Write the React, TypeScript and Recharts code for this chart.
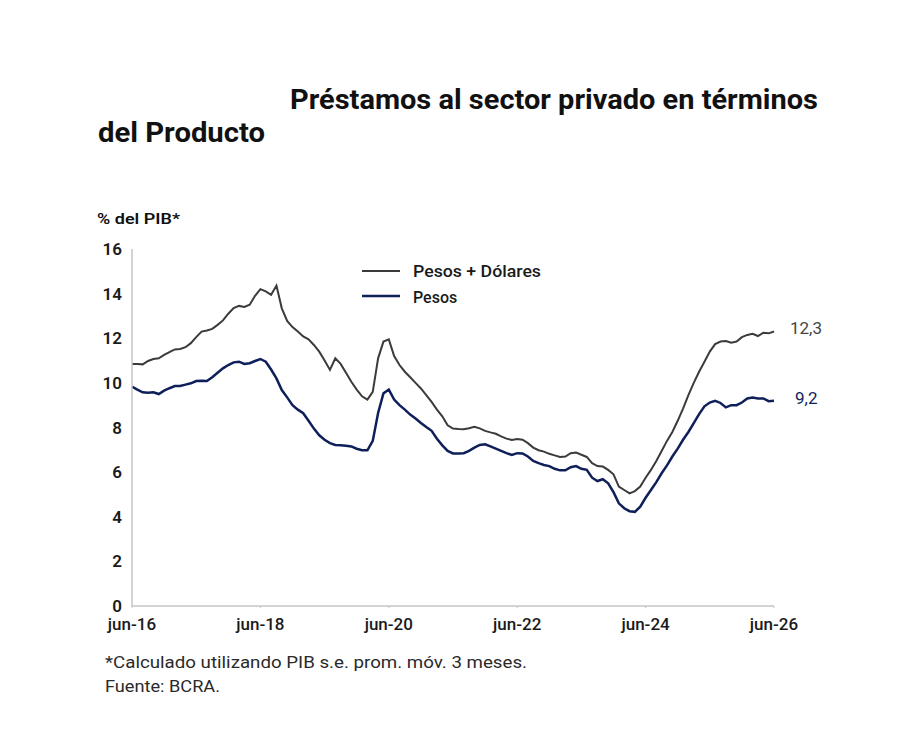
import { LineChart, Line, XAxis, YAxis } from "recharts";

const monthAbbr = ["ene", "feb", "mar", "abr", "may", "jun", "jul", "ago", "sep", "oct", "nov", "dic"];

// monthly periods, jun-16 .. jun-26
const periods: string[] = [];
for (let i = 0; i <= 120; i++) {
  const k = 5 + i;
  periods.push(`${monthAbbr[k % 12]}-${16 + Math.floor(k / 12)}`);
}

// % del PIB
const pesosDolares = [
  10.85, 10.85, 10.83, 10.98, 11.07, 11.1, 11.25, 11.38, 11.5, 11.52,
  11.6, 11.78, 12.05, 12.3, 12.35, 12.42, 12.6, 12.8, 13.1, 13.35,
  13.45, 13.4, 13.5, 13.9, 14.2, 14.1, 13.95, 14.36, 13.34, 12.78,
  12.5, 12.3, 12.08, 11.95, 11.7, 11.4, 11.0, 10.58, 11.1, 10.85,
  10.45, 10.05, 9.7, 9.4, 9.25, 9.6, 11.1, 11.85, 11.95, 11.2,
  10.8, 10.5, 10.25, 10.0, 9.75, 9.45, 9.15, 8.8, 8.5, 8.1,
  7.95, 7.93, 7.92, 7.97, 8.03, 7.96, 7.85, 7.78, 7.72, 7.6,
  7.5, 7.44, 7.48, 7.45, 7.3, 7.1, 6.98, 6.92, 6.82, 6.75,
  6.68, 6.7, 6.85, 6.88, 6.78, 6.68, 6.4, 6.27, 6.25, 6.1,
  5.9, 5.35, 5.2, 5.05, 5.15, 5.35, 5.75, 6.1, 6.5, 6.95,
  7.4, 7.8, 8.3, 8.85, 9.45, 10.0, 10.5, 10.95, 11.4, 11.74,
  11.85, 11.88, 11.8, 11.85, 12.05, 12.15, 12.2, 12.1, 12.25, 12.22, 12.3,
];

const pesos = [
  9.83, 9.7, 9.58, 9.56, 9.58, 9.5, 9.65, 9.76, 9.86, 9.86,
  9.92, 9.98, 10.08, 10.1, 10.08, 10.25, 10.45, 10.65, 10.8, 10.92,
  10.95, 10.85, 10.88, 10.98, 11.07, 10.95, 10.6, 10.2, 9.68, 9.35,
  9.0, 8.8, 8.64, 8.3, 7.95, 7.65, 7.45, 7.3, 7.22, 7.2,
  7.18, 7.15, 7.05, 6.98, 6.98, 7.4, 8.65, 9.53, 9.7, 9.25,
  9.0, 8.8, 8.58, 8.4, 8.2, 8.02, 7.85, 7.5, 7.2, 6.95,
  6.84, 6.84, 6.85, 6.95, 7.1, 7.22, 7.25, 7.15, 7.05, 6.95,
  6.85, 6.77, 6.85, 6.84, 6.7, 6.5, 6.4, 6.32, 6.27, 6.15,
  6.08, 6.08, 6.22, 6.27, 6.15, 6.1, 5.75, 5.6, 5.68, 5.5,
  5.1, 4.6, 4.38, 4.25, 4.22, 4.45, 4.85, 5.2, 5.55, 5.95,
  6.3, 6.7, 7.05, 7.45, 7.8, 8.2, 8.6, 8.95, 9.12, 9.2,
  9.1, 8.9, 9.0, 9.0, 9.12, 9.3, 9.34, 9.3, 9.3, 9.18, 9.2,
];

const yTicks = [0, 2, 4, 6, 8, 10, 12, 14, 16];

const data = periods.map((p, i) => ({ p, pd: pesosDolares[i], ps: pesos[i] }));

const GRAY = "#3b3b3b";
const NAVY = "#0f1f5a";
const FONT = "Roboto, 'Noto Sans', sans-serif";

const fmt = (v: number) => v.toFixed(1).replace(".", ",");

const endLabel = (color: string, dx: number, dy: number) => (props: any) => {
  if (props.index !== data.length - 1) return <g />;
  return (
    <text x={props.x + dx} y={props.y + dy} fill={color} fontSize={17} fontFamily={FONT} dominantBaseline="central">
      {fmt(props.value)}
    </text>
  );
};

export default function App() {
  return (
    <div style={{ position: "relative", width: 918, height: 750, background: "#fff", fontFamily: FONT }}>
      <style>{"body{margin:0}"}</style>
      <LineChart width={918} height={750} data={data} margin={{ top: 249, right: 144, bottom: 114, left: 100 }}>
        <XAxis
          dataKey="p"
          interval={23}
          axisLine={{ stroke: "#c4c4c4", strokeWidth: 1.5 }}
          tickLine={{ stroke: "#c4c4c4" }}
          tickSize={2}
          height={30}
          tick={{ fill: "#1a1a1a", fontSize: 17, fontWeight: 500, fontFamily: FONT, dy: 8 }}
        />
        <YAxis
          domain={[0, 16]}
          ticks={yTicks}
          width={32}
          axisLine={{ stroke: "#c4c4c4", strokeWidth: 1.5 }}
          tickLine={false}
          tick={{ fill: "#1a1a1a", fontSize: 17, fontWeight: 600, fontFamily: FONT, dx: -2 }}
        />
        <Line
          dataKey="pd"
          stroke={GRAY}
          strokeWidth={2}
          dot={false}
          type="linear"
          isAnimationActive={false}
          label={endLabel("#444", 16, -4)}
        />
        <Line
          dataKey="ps"
          stroke={NAVY}
          strokeWidth={2.5}
          dot={false}
          type="linear"
          isAnimationActive={false}
          label={endLabel(NAVY, 21, -3)}
        />
      </LineChart>
      <svg width={918} height={750} style={{ position: "absolute", left: 0, top: 0, pointerEvents: "none" }}>
        <g fontFamily={FONT} fill="#111">
          <text x={290} y={109} fontSize={28} fontWeight={700} textLength={528} lengthAdjust="spacingAndGlyphs">
            Préstamos al sector privado en términos
          </text>
          <text x={98} y={142} fontSize={28} fontWeight={700} textLength={167} lengthAdjust="spacingAndGlyphs">
            del Producto
          </text>
          <text x={97} y={224} fontSize={15} fontWeight={600} textLength={83} lengthAdjust="spacingAndGlyphs">
            % del PIB*
          </text>
          <text x={105} y={668} fontSize={16} fill="#2a2a2a" textLength={422} lengthAdjust="spacingAndGlyphs">
            *Calculado utilizando PIB s.e. prom. móv. 3 meses.
          </text>
          <text x={105} y={692} fontSize={16} fill="#2a2a2a" textLength={115} lengthAdjust="spacingAndGlyphs">
            Fuente: BCRA.
          </text>
        </g>
        {/* series key */}
        <g fontFamily={FONT} fontSize={16} fontWeight={500} fill="#1a1a1a">
          <line x1={362} x2={400} y1={271} y2={271} stroke={GRAY} strokeWidth={2} />
          <text x={413} y={271} dominantBaseline="central" textLength={128} lengthAdjust="spacingAndGlyphs">
            Pesos + Dólares
          </text>
          <line x1={362} x2={400} y1={296} y2={296} stroke={NAVY} strokeWidth={2.5} />
          <text x={413} y={297} dominantBaseline="central">
            Pesos
          </text>
        </g>
      </svg>
    </div>
  );
}
